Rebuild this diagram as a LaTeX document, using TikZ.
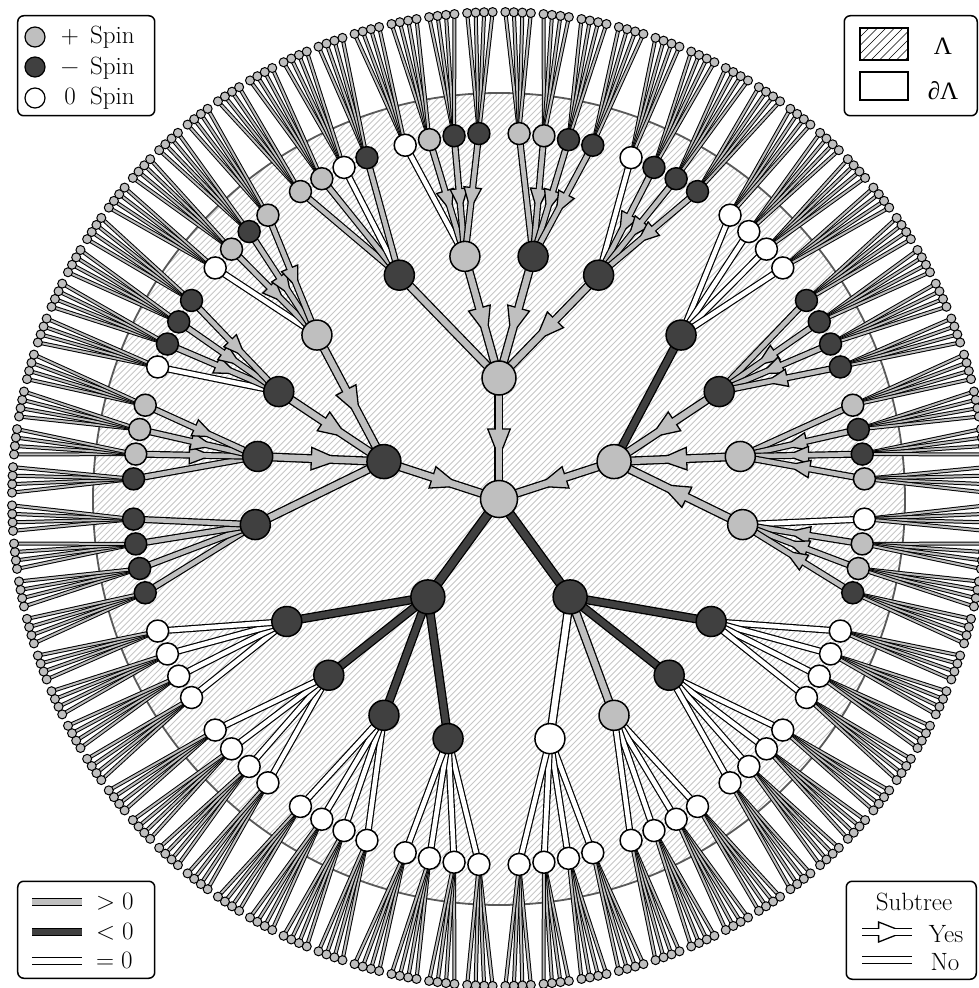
\documentclass[tikz,border=0pt]{standalone}
\usepackage{fontspec}
\newfontfamily\symfont{Liberation Serif}
\usetikzlibrary{calc}
\definecolor{cg}{gray}{0.75}
\definecolor{cd}{gray}{0.25}
\definecolor{cw}{gray}{1}
\newcommand\setdata[2]{\expandafter\def\csname #1\endcsname{#2}}
% child, parent, width, colour, arrow(1/0), inner width
\newcommand\band[6]{%
  \draw[line width=#3pt, black] (#1.center) -- (#2.center);
  \ifnum#5=1
    \coordinate (mA) at ($(#1.center)!0.5!(#2.center)$);
    \coordinate (bA) at ($(mA)!1.05*#3pt!(#1.center)$);
    \coordinate (tA) at ($(mA)!1.05*#3pt!(#2.center)$);
    \filldraw[fill=#4, draw=black, line width=1.3pt, line join=miter, miter limit=10]
      ($(bA)!1.25*#3pt!90:(#2.center)$) -- ($(tA)!0.5*#3pt-0.65pt!90:(#2.center)$)
      -- ($(tA)!0.5*#3pt-0.65pt!-90:(#2.center)$) -- ($(bA)!1.25*#3pt!-90:(#2.center)$) -- cycle;
  \fi
  \draw[line width=#6pt, #4] (#1.center) -- (#2.center);
}
\tikzset{
  spin/.style={circle, draw=black, inner sep=0pt, line width=1.5pt},
  legbox/.style={draw=black, line width=1.5pt, rounded corners=6pt, fill=white, inner sep=0pt},
  legtext/.style={inner sep=0pt, font=\fontsize{25}{30}\selectfont},
}
\def\Lone{A/90/g/g/1/9,B/18/g/g/1/9,C/-54/d/d/0/10,D/-126/d/d/0/10,E/162/d/g/1/9}
% level-2 data: colour/edge colour/arrow
\setdata{LtwoA}{d/g/0,g/g/1,d/g/1,d/g/1}
\setdata{LtwoB}{d/d/0,d/g/1,g/g/1,g/g/1}
\setdata{LtwoC}{d/d/0,d/d/0,g/g/0,w/w/0}
\setdata{LtwoD}{d/d/0,d/d/0,d/d/0,d/d/0}
\setdata{LtwoE}{d/g/0,d/g/1,d/g/1,g/g/1}
% level-3 data
\setdata{LthreeA1}{g/g/0,g/g/0,w/w/0,d/g/0}
\setdata{LthreeA2}{w/w/0,g/g/1,d/g/1,d/g/1}
\setdata{LthreeA3}{g/g/0,g/g/1,d/g/1,d/g/1}
\setdata{LthreeA4}{w/w/0,d/g/1,d/g/1,d/g/1}
\setdata{LthreeB1}{w/w/0,w/w/0,w/w/0,w/w/0}
\setdata{LthreeB2}{d/g/0,d/g/1,d/g/1,d/g/1}
\setdata{LthreeB3}{g/g/0,d/g/1,d/g/1,g/g/1}
\setdata{LthreeB4}{w/w/0,g/g/1,g/g/1,d/g/1}
\setdata{LthreeC1}{w/w/0,w/w/0,w/w/0,w/w/0}
\setdata{LthreeC2}{w/w/0,w/w/0,w/w/0,w/w/0}
\setdata{LthreeC3}{w/w/0,w/w/0,w/w/0,w/w/0}
\setdata{LthreeC4}{w/w/0,w/w/0,w/w/0,w/w/0}
\setdata{LthreeD1}{w/w/0,w/w/0,w/w/0,w/w/0}
\setdata{LthreeD2}{w/w/0,w/w/0,w/w/0,w/w/0}
\setdata{LthreeD3}{w/w/0,w/w/0,w/w/0,w/w/0}
\setdata{LthreeD4}{w/w/0,w/w/0,w/w/0,w/w/0}
\setdata{LthreeE1}{d/g/0,d/g/0,d/g/0,d/g/0}
\setdata{LthreeE2}{d/g/0,g/g/1,g/g/1,g/g/1}
\setdata{LthreeE3}{w/w/0,d/g/1,d/g/1,d/g/1}
\setdata{LthreeE4}{w/w/0,g/g/1,d/g/1,g/g/1}
\begin{document}
\begin{tikzpicture}[x=1pt,y=1pt]
\useasboundingbox (-499,-489) rectangle (480,499);
\clip (-499,-489) rectangle (480,499);
\fill[white] (-499,-489) rectangle (480,499);
\begin{scope}
  \clip (0,0) circle[radius=406];
  \foreach \hc in {-840,-833.9,...,840}
    \draw[black!22, line width=0.9pt] (\hc-420,-420) -- (\hc+420,420);
\end{scope}
\draw[black!65,line width=1.8pt] (0,0) circle[radius=406];
% positions and connectors
\coordinate (r) at (0,0);
\foreach \sub/\aone/\cone/\eone/\arone/\wone in \Lone {
  \coordinate (n\sub) at (\aone:121);
  \band{n\sub}{r}{\wone}{c\eone}{\arone}{\wone-2.6}
  \expandafter\let\expandafter\ltwo\csname Ltwo\sub\endcsname
  \foreach \ctwo/\etwo/\artwo [count=\jj] in \ltwo {
    \pgfmathsetmacro\angb{\aone+16*(2.5-\jj)}
    \pgfmathsetmacro\grpb{\aone+18*(2.5-\jj)}
    \coordinate (n\sub\jj) at (\angb:245);
    \band{n\sub\jj}{n\sub}{9}{c\etwo}{\artwo}{6.4}
    \expandafter\let\expandafter\lthree\csname Lthree\sub\jj\endcsname
    \foreach \cthree/\ethree/\arthree [count=\kk] in \lthree {
      \pgfmathsetmacro\angc{\grpb+3.9*(2.5-\kk)}
      \pgfmathsetmacro\grpc{\grpb+4.5*(2.5-\kk)}
      \coordinate (n\sub\jj\kk) at (\angc:366);
      \band{n\sub\jj\kk}{n\sub\jj}{7}{c\ethree}{\arthree}{4.6}
      \foreach \mm in {1,2,3,4} {
        \pgfmathsetmacro\angd{\grpc+(2.5-\mm)}
        \coordinate (n\sub\jj\kk\mm) at (\angd:487);
        \band{n\sub\jj\kk\mm}{n\sub\jj\kk}{4}{cg}{0}{2}
      }
    }
  }
}
% spin nodes on top
\node[spin, fill=cg, minimum size=37pt] (vr) at (r) {};
\foreach \sub/\aone/\cone/\eone/\arone/\wone in \Lone {
  \node[spin, fill=c\cone, minimum size=34pt] (v\sub) at (n\sub) {};
  \expandafter\let\expandafter\ltwo\csname Ltwo\sub\endcsname
  \foreach \ctwo/\etwo/\artwo [count=\jj] in \ltwo {
    \node[spin, fill=c\ctwo, minimum size=30pt] (v\sub\jj) at (n\sub\jj) {};
    \expandafter\let\expandafter\lthree\csname Lthree\sub\jj\endcsname
    \foreach \cthree/\ethree/\arthree [count=\kk] in \lthree {
      \node[spin, fill=c\cthree, minimum size=22pt] (v\sub\jj\kk) at (n\sub\jj\kk) {};
      \foreach \mm in {1,2,3,4}
        \node[spin, fill=cg, minimum size=9pt, line width=1pt] (v\sub\jj\kk\mm) at (n\sub\jj\kk\mm) {};
    }
  }
}
% spins legend
\node[legbox, minimum width=137pt, minimum height=100pt, anchor=north west] (lgA) at (-482,484) {};
\node[spin, fill=cg, minimum size=20pt, line width=1.2pt] (lgAp) at (-464,462) {};
\node[spin, fill=cd, minimum size=20pt, line width=1.2pt] (lgAm) at (-464,432) {};
\node[spin, fill=cw, minimum size=20pt, line width=1.2pt] (lgAz) at (-464,401) {};
\node[legtext, anchor=base] (lgAps) at (-429,455) {+};
\node[legtext, anchor=base] (lgAms) at (-429,424.5) {−};
\node[legtext, anchor=base] (lgAzs) at (-429,394) {0};
\node[legtext, anchor=base west] (lgApt) at (-409,455) {Spin};
\node[legtext, anchor=base west] (lgAmt) at (-409,424.5) {Spin};
\node[legtext, anchor=base west] (lgAzt) at (-409,394) {Spin};
% region legend
\node[legbox, minimum width=133pt, minimum height=100pt, anchor=north east] (lgB) at (479,484) {};
\begin{scope}
  \clip (361,439) rectangle (409,471);
  \foreach \hc in {-118,-109.5,...,-20}
    \draw[black, line width=0.7pt] (\hc+430,430) -- (\hc+480,480);
\end{scope}
\node[draw=black, line width=1.3pt, minimum width=48pt, minimum height=32pt, inner sep=0pt] (lgBh) at (385,455) {};
\node[draw=black, line width=1.3pt, minimum width=48pt, minimum height=28pt, inner sep=0pt, fill=white] (lgBw) at (385,413) {};
\node[legtext, anchor=base] (lgBht) at (444,444) {\symfont Λ};
\node[legtext, anchor=base] (lgBwt) at (444,399) {\symfont\itshape ∂\upshape Λ};
% edge value legend
\node[legbox, minimum width=137pt, minimum height=97pt, anchor=south west] (lgC) at (-482,-480) {};
\coordinate (lgC1a) at (-467,-403); \coordinate (lgC1b) at (-417,-403);
\coordinate (lgC2a) at (-467,-433); \coordinate (lgC2b) at (-417,-433);
\coordinate (lgC3a) at (-467,-462); \coordinate (lgC3b) at (-417,-462);
\band{lgC1a}{lgC1b}{8.5}{cg}{0}{5.9}
\band{lgC2a}{lgC2b}{8.5}{cd}{0}{5.9}
\band{lgC3a}{lgC3b}{8.5}{cw}{0}{5.9}
\node[legtext, anchor=base west] (lgC1t) at (-403,-410) {>\hspace{0.28em}0};
\node[legtext, anchor=base west] (lgC2t) at (-403,-440) {<\hspace{0.28em}0};
\node[legtext, anchor=base west] (lgC3t) at (-403,-469) {=\hspace{0.28em}0};
% subtree legend
\node[legbox, minimum width=130pt, minimum height=98pt, anchor=south east] (lgD) at (478,-481) {};
\node[legtext, anchor=base] (lgDt) at (415,-411) {Subtree};
\coordinate (lgDa) at (363,-433); \coordinate (lgDb) at (413,-433);
\band{lgDa}{lgDb}{8}{cw}{1}{5.4}
\coordinate (lgDc) at (363,-461); \coordinate (lgDd) at (413,-461);
\band{lgDc}{lgDd}{8}{cw}{0}{5.4}
\node[legtext, anchor=base] (lgDy) at (447,-443) {Yes};
\node[legtext, anchor=base] (lgDn) at (446,-471) {No};
\end{tikzpicture}
\end{document}
